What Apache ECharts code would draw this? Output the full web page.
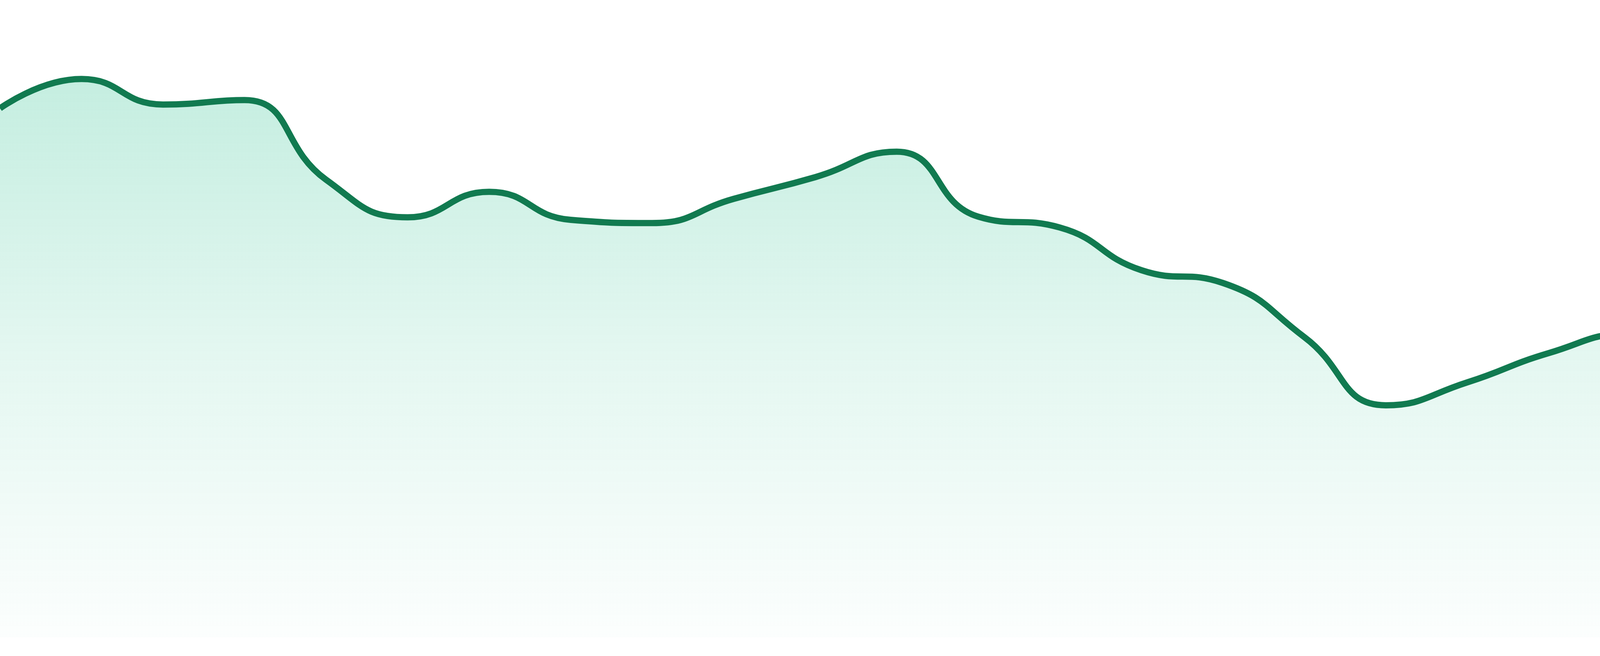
<!DOCTYPE html>
<html>
<head>
<meta charset="UTF-8">
<title>area</title>
<script src="https://cdn.jsdelivr.net/npm/echarts@6/dist/echarts.min.js"></script>
<style>
  html, body { margin: 0; padding: 0; background: #fff; }
  #main { width: 4800px; height: 1680px; }
</style>
</head>
<body>
<div id="main"></div>
<script>
// points, left to right
var days = ['1', '2', '3', '4', '5', '6', '7', '8', '9', '10', '11', '12',
            '13', '14', '15', '16', '17', '18', '19', '20', '21', '22', '23', '24'];
var values = [83.0, 87.6, 83.6, 84.3, 71.8, 65.9, 69.9, 65.5, 65.0, 68.8, 72.2, 76.2,
              66.0, 64.3, 57.6, 55.6, 47.1, 36.4, 40.0, 44.6, 47.6, 45.2, 49.3, 48.6];

var myChart = echarts.init(document.getElementById('main'));
var option = {
  animation: false,
  grid: { left: 0, right: 0, top: 0, bottom: 48 },
  xAxis: {
    type: 'category',
    data: days,
    boundaryGap: false,
    show: false
  },
  yAxis: {
    type: 'value',
    min: 0,
    max: 100,
    show: false,
    splitLine: { show: false }
  },
  series: [{
    type: 'line',
    data: values,
    smooth: true,
    symbol: 'none',
    lineStyle: { color: '#117a50', width: 16 },
    areaStyle: {
      color: new echarts.graphic.LinearGradient(0, 0, 0, 1, [
        { offset: 0, color: 'rgba(16,185,129,0.35)' },
        { offset: 0.5, color: 'rgba(16,185,129,0.16)' },
        { offset: 1, color: 'rgba(16,185,129,0.02)' }
      ])
    }
  }]
};
myChart.setOption(option);
</script>
</body>
</html>
